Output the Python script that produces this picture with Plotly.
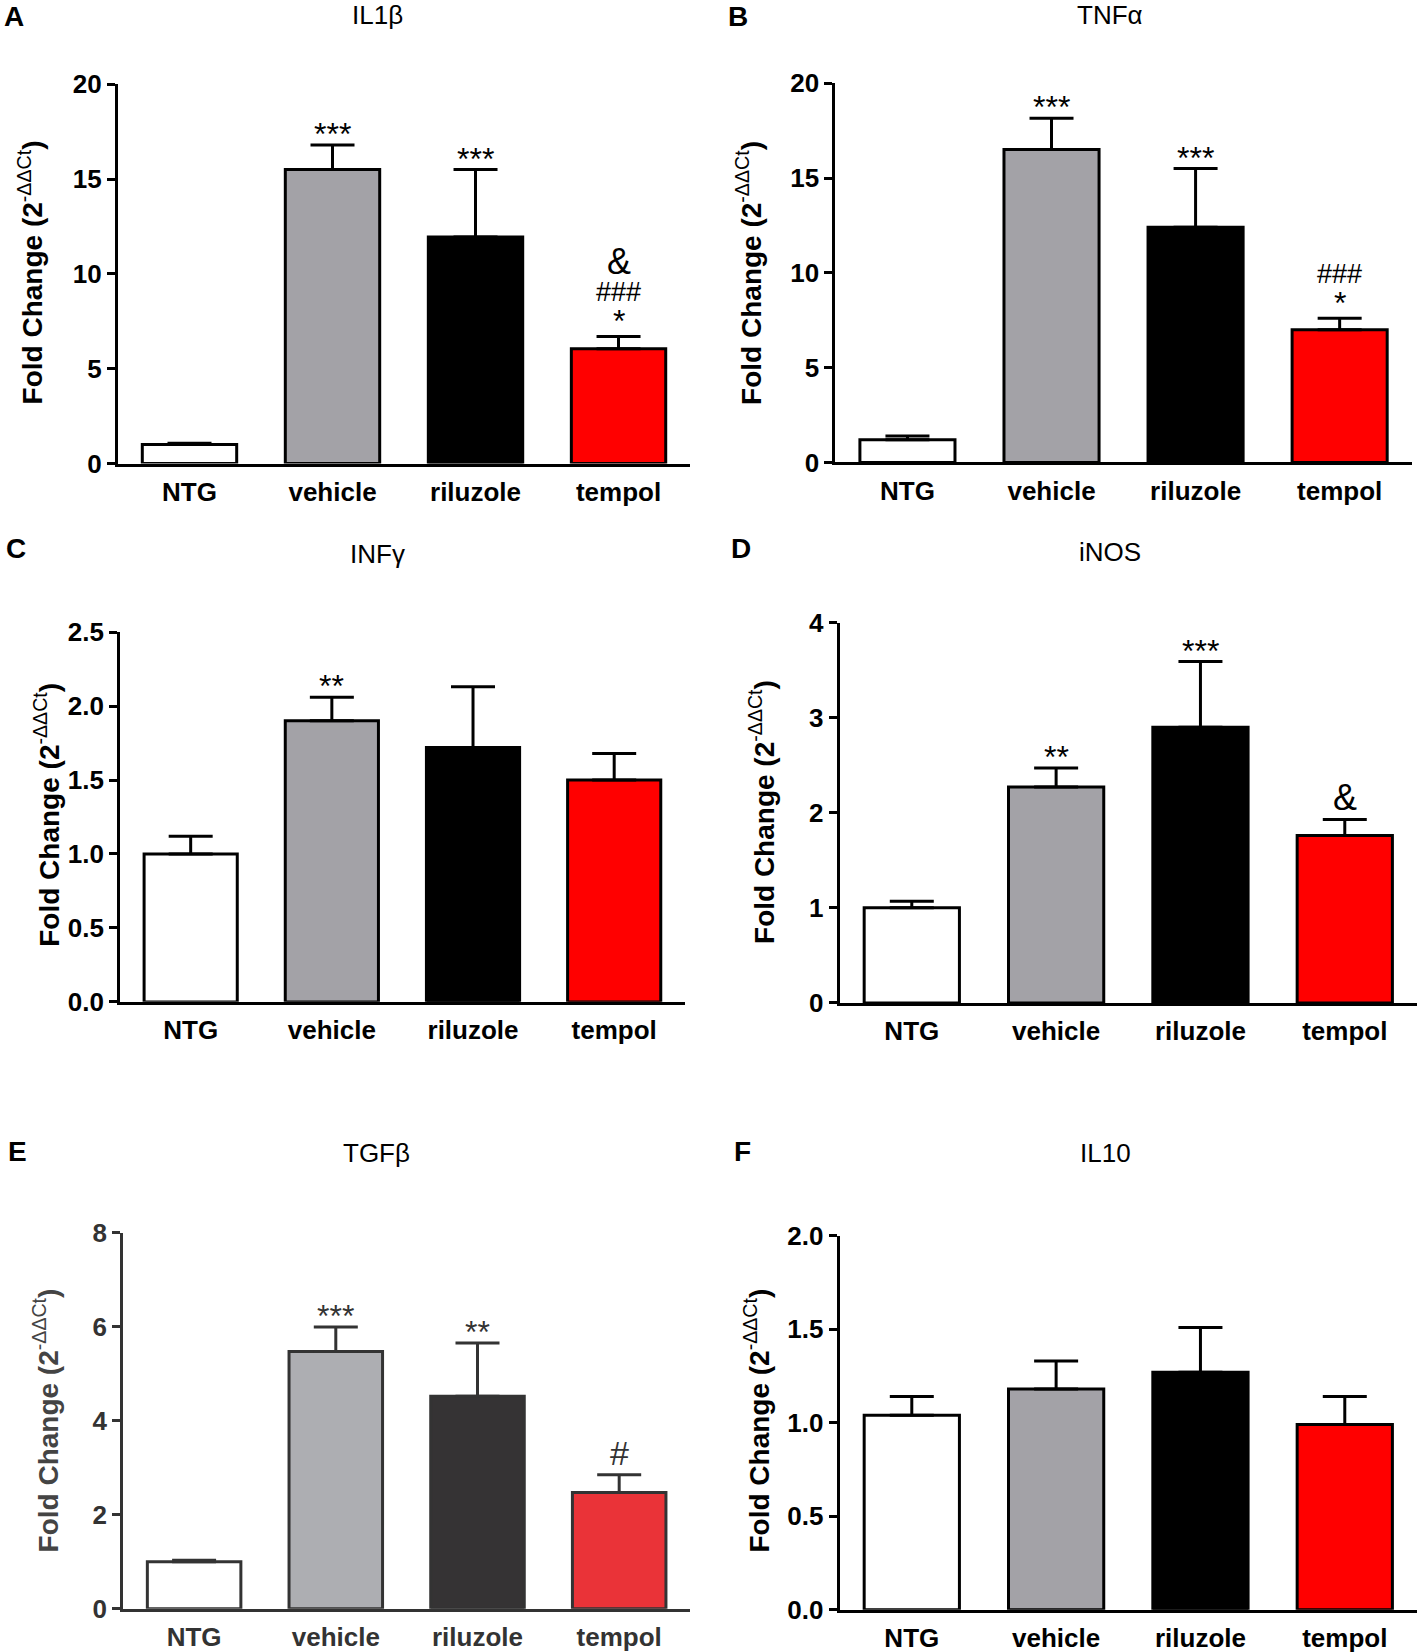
import plotly.graph_objects as go

W, H = 1418, 1652
S = 1418 / 1346  # shrunk-reference px -> full-size px

categories = ["NTG", "vehicle", "riluzole", "tempol"]

genes = ["IL1β", "TNFα", "INFγ", "iNOS", "TGFβ", "IL10"]
letters = ["A", "B", "C", "D", "E", "F"]

mean_il1b = [1.0, 15.5, 11.95, 6.05]
err_il1b = [0.07, 1.3, 3.55, 0.65]
mean_tnfa = [1.2, 16.5, 12.4, 7.0]
err_tnfa = [0.2, 1.65, 3.1, 0.6]
mean_infg = [1.0, 1.9, 1.72, 1.5]
err_infg = [0.12, 0.16, 0.41, 0.18]
mean_inos = [1.0, 2.27, 2.9, 1.76]
err_inos = [0.07, 0.2, 0.69, 0.17]
mean_tgfb = [1.0, 5.47, 4.52, 2.47]
err_tgfb = [0.03, 0.52, 1.13, 0.38]
mean_il10 = [1.04, 1.18, 1.27, 0.99]
err_il10 = [0.1, 0.15, 0.24, 0.15]

ticks_il1b = [0, 5, 10, 15, 20]
ticks_tnfa = [0, 5, 10, 15, 20]
ticks_infg = [0.0, 0.5, 1.0, 1.5, 2.0, 2.5]
ticks_inos = [0, 1, 2, 3, 4]
ticks_tgfb = [0, 2, 4, 6, 8]
ticks_il10 = [0.0, 0.5, 1.0, 1.5, 2.0]

# significance marks per bar (listed bottom -> top)
sig_il1b = [[], ["***"], ["***"], ["*", "###", "&"]]
sig_tnfa = [[], ["***"], ["***"], ["*", "###"]]
sig_infg = [[], ["**"], [], []]
sig_inos = [[], ["**"], ["***"], ["&"]]
sig_tgfb = [[], ["***"], ["**"], ["#"]]
sig_il10 = [[], [], [], []]

means = [mean_il1b, mean_tnfa, mean_infg, mean_inos, mean_tgfb, mean_il10]
errs = [err_il1b, err_tnfa, err_infg, err_inos, err_tgfb, err_il10]
tickvals = [ticks_il1b, ticks_tnfa, ticks_infg, ticks_inos, ticks_tgfb, ticks_il10]
sigs = [sig_il1b, sig_tnfa, sig_infg, sig_inos, sig_tgfb, sig_il10]

# panel geometry (shrunk-reference px): x0, x1, ytop, ybottom
boxes = [
    (112, 655, 80, 440),
    (793, 1340, 79, 439),
    (114, 650, 600, 951),
    (797, 1345, 591, 952),
    (117, 655, 1170, 1527),
    (797, 1345, 1173, 1528),
]
title_pos = [(358, 14), (1054, 14), (358, 526), (1054, 524), (357, 1094), (1049, 1094)]
letter_pos = [(13, 16), (701, 16), (15, 521), (703, 521), (17, 1093), (705, 1093)]
ytitle_pos = [(29, 259), (711, 259), (45, 773), (724, 771), (44, 1348), (719, 1348)]

std_colors = ["#FFFFFF", "#A3A2A7", "#000000", "#FF0000"]
e_colors = ["#FFFFFF", "#ADAEB2", "#353334", "#EA3338"]

SANS = "Liberation Sans, Arial, sans-serif"


def fx(x):
    return x * S


def px(x):
    return min(fx(x) / W, 1.0)


def py(y):
    return 1 - (y * S) / H


fig = go.Figure()
annotations = []
layout = {}

for i in range(6):
    n = "" if i == 0 else str(i + 1)
    xa, ya = "x" + n, "y" + n
    is_e = (i == 4)
    ink = "#333333" if is_e else "#000000"
    txt = "#333333" if is_e else "#000000"
    cols = e_colors if is_e else std_colors
    fig.add_trace(go.Bar(
        x=categories, y=means[i], xaxis=xa, yaxis=ya, width=0.66,
        marker=dict(color=cols, line=dict(color=ink, width=3)),
        error_y=dict(type="data", array=errs[i], arrayminus=[0] * 4,
                     symmetric=False, thickness=3, width=22, color=ink),
        showlegend=False, hoverinfo="skip",
    ))
    x0, x1, yt, yb = boxes[i]
    unit = (fx(x1) - fx(x0)) / 4.0
    right_px = min(fx(x1), W)
    xr = 3.5 - (fx(x1) - right_px) / unit
    tv = tickvals[i]
    fmt = ".1f" if isinstance(tv[0], float) else "d"
    layout["xaxis" + n] = dict(
        domain=[px(x0), right_px / W], anchor=ya, type="category",
        range=[-0.5, xr], showline=True, linecolor=ink, linewidth=3,
        ticks="outside", ticklen=3, tickcolor="rgba(0,0,0,0)",
        tickfont=dict(family=SANS, size=26, color=txt, weight="bold"),
        showgrid=False, zeroline=False, fixedrange=True, automargin=False,
    )
    layout["yaxis" + n] = dict(
        domain=[py(yb), py(yt)], anchor=xa, range=[tv[0], tv[-1]],
        tickvals=tv, tickformat=fmt, showline=True, linecolor=ink, linewidth=3,
        ticks="outside", ticklen=8, tickwidth=3, tickcolor=ink,
        tickfont=dict(family=SANS, size=26, color=txt, weight="bold"),
        showgrid=False, zeroline=False, fixedrange=True, automargin=False,
    )
    tx, ty = title_pos[i]
    annotations.append(dict(
        text=genes[i], x=px(tx), y=py(ty), xref="paper", yref="paper",
        showarrow=False, xanchor="center", yanchor="middle",
        font=dict(family=SANS, size=26, color="#000000")))
    lx, ly = letter_pos[i]
    annotations.append(dict(
        text="<b>" + letters[i] + "</b>", x=px(lx), y=py(ly), xref="paper", yref="paper",
        showarrow=False, xanchor="center", yanchor="middle",
        font=dict(family=SANS, size=28, color="#000000")))
    qx, qy = ytitle_pos[i]
    annotations.append(dict(
        text="<b>Fold Change (2</b><sup>-ΔΔCt</sup><b>)</b>", x=px(qx), y=py(qy),
        xref="paper", yref="paper", textangle=-90,
        showarrow=False, xanchor="center", yanchor="middle",
        font=dict(family=SANS, size=28, color="#444444" if is_e else "#000000")))
    # significance marks, stacked above the error cap
    for j, marks in enumerate(sigs[i]):
        top = means[i][j] + errs[i][j]
        shift = 0
        prev = None
        for m in marks:
            if prev is None:
                if m == "*":
                    shift = 15
                elif m.startswith("*"):
                    shift = 11
                else:
                    shift = 22
            elif m == "###":
                shift += 29
            else:
                shift += 31
            size = 32
            if m == "###":
                size = 27
            elif m == "&":
                size = 36
            elif m == "#":
                size = 34
            annotations.append(dict(
                text=m, x=categories[j], y=top, xref=xa, yref=ya,
                showarrow=False, xanchor="center", yanchor="middle", yshift=shift,
                font=dict(family=SANS, size=size, color=txt)))
            prev = m

layout["annotations"] = annotations
fig.update_layout(
    width=W, height=H, margin=dict(l=0, r=0, t=0, b=0, autoexpand=False),
    paper_bgcolor="white", plot_bgcolor="white", **layout,
)
fig.write_html(
    "out.html",
    config={"displayModeBar": False, "staticPlot": True},
    post_script="document.body.style.margin='0px';document.body.style.overflow='hidden';",
)
